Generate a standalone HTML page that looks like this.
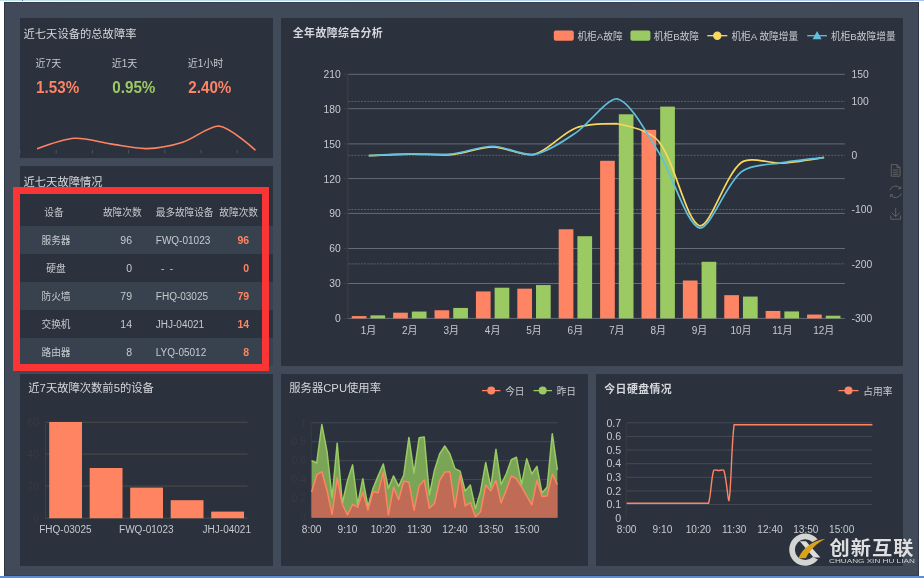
<!DOCTYPE html>
<html lang="zh-CN"><head><meta charset="utf-8"><title>设备故障监控</title>
<style>
html,body{margin:0;padding:0}
body{width:924px;height:578px;position:relative;overflow:hidden;background:#fff;
font-family:"Liberation Sans","Noto Sans CJK SC",sans-serif;color:#d4d7db}
.abs{position:absolute}
.frame{left:4px;top:2px;width:915px;height:574px;background:#414a59;box-sizing:border-box;border-left:1px solid #2f3743;border-right:1px solid #2f3743;border-bottom:1px solid #3a4250;border-top:1px solid #363e4b}
.panel{background:#2b313d}
.t{position:absolute;white-space:nowrap;line-height:1}
.title{font-size:11.3px;color:#d4d7db}
.b{font-weight:bold}
.title.b{font-size:10.9px;letter-spacing:.4px}
.lbl{font-size:9.7px;color:#c6cacf}
svg{position:absolute;left:0;top:0;overflow:visible}
svg text{font-family:"Liberation Sans","Noto Sans CJK SC",sans-serif}
</style></head><body>
<div class="abs" style="left:0;top:0;width:924px;height:1px;background:linear-gradient(90deg,#bfe4e8,#b4d6ec 45%,#a9c6ef)"></div>
<div class="abs" style="left:0;top:576px;width:924px;height:2px;background:#5f89d9"></div>
<div class="abs frame"></div>
<div class="abs" style="left:22px;top:0;width:1px;height:1px;background:#6a78b8"></div>

<div class="abs panel" style="left:20px;top:18px;width:253px;height:140px"></div>
<div class="abs panel" style="left:281px;top:18px;width:622px;height:348px"></div>
<div class="abs panel" style="left:20px;top:166px;width:253px;height:200px"></div>
<div class="abs panel" style="left:20px;top:374px;width:253px;height:192px"></div>
<div class="abs panel" style="left:281px;top:374px;width:307px;height:192px"></div>
<div class="abs panel" style="left:596px;top:374px;width:307px;height:192px"></div>
<div class="t title" style="top:34.6px;left:23.5px;transform:translateY(-50%);">近七天设备的总故障率</div>
<div class="t lbl" style="top:63.6px;left:35.6px;transform:translateY(-50%);font-size:10px;">近7天</div>
<div class="t b" style="top:86.7px;left:36.1px;transform:translateY(-50%);font-size:15.2px;color:#fe8463;transform:translateY(-50%) scaleY(1.07);">1.53%</div>
<div class="t lbl" style="top:63.6px;left:111.8px;transform:translateY(-50%);font-size:10px;">近1天</div>
<div class="t b" style="top:86.7px;left:112.3px;transform:translateY(-50%);font-size:15.2px;color:#9bca63;transform:translateY(-50%) scaleY(1.07);">0.95%</div>
<div class="t lbl" style="top:63.6px;left:187.8px;transform:translateY(-50%);font-size:10px;">近1小时</div>
<div class="t b" style="top:86.7px;left:188.3px;transform:translateY(-50%);font-size:15.2px;color:#fe8463;transform:translateY(-50%) scaleY(1.07);">2.40%</div>
<div class="t title" style="top:182.8px;left:23.5px;transform:translateY(-50%);">近七天故障情况</div>
<div class="abs" style="left:20px;top:226px;width:253px;height:28px;background:#38424e"></div>
<div class="abs" style="left:20px;top:282px;width:253px;height:28px;background:#38424e"></div>
<div class="abs" style="left:20px;top:338px;width:253px;height:28px;background:#38424e"></div>
<div class="t lbl" style="top:213.1px;left:54px;transform:translate(-50%,-50%);">设备</div>
<div class="t lbl" style="top:213.1px;left:122.3px;transform:translate(-50%,-50%);">故障次数</div>
<div class="t lbl" style="top:213.1px;left:155.8px;transform:translateY(-50%);letter-spacing:-0.1px;">最多故障设备</div>
<div class="t lbl" style="top:213.1px;left:238.7px;transform:translate(-50%,-50%);">故障次数</div>
<div class="t lbl" style="top:240.8px;left:56px;transform:translate(-50%,-50%);">服务器</div>
<div class="t lbl" style="top:240.2px;right:792px;transform:translateY(-50%);font-size:10.5px;">96</div>
<div class="t lbl" style="top:240.8px;left:155.8px;transform:translateY(-50%);font-size:10px;">FWQ-01023</div>
<div class="t lbl b" style="top:240.2px;right:674.8px;transform:translateY(-50%);font-size:10.5px;color:#fe8463;">96</div>
<div class="t lbl" style="top:268.8px;left:56px;transform:translate(-50%,-50%);">硬盘</div>
<div class="t lbl" style="top:268.2px;right:792px;transform:translateY(-50%);font-size:10.5px;">0</div>
<div class="t lbl" style="top:268.8px;left:155.8px;transform:translateY(-50%);font-size:10px;"><span style="padding-left:5.2px">-&nbsp;&nbsp;-</span></div>
<div class="t lbl b" style="top:268.2px;right:674.8px;transform:translateY(-50%);font-size:10.5px;color:#fe8463;">0</div>
<div class="t lbl" style="top:296.8px;left:56px;transform:translate(-50%,-50%);">防火墙</div>
<div class="t lbl" style="top:296.2px;right:792px;transform:translateY(-50%);font-size:10.5px;">79</div>
<div class="t lbl" style="top:296.8px;left:155.8px;transform:translateY(-50%);font-size:10px;">FHQ-03025</div>
<div class="t lbl b" style="top:296.2px;right:674.8px;transform:translateY(-50%);font-size:10.5px;color:#fe8463;">79</div>
<div class="t lbl" style="top:324.8px;left:56px;transform:translate(-50%,-50%);">交换机</div>
<div class="t lbl" style="top:324.2px;right:792px;transform:translateY(-50%);font-size:10.5px;">14</div>
<div class="t lbl" style="top:324.8px;left:155.8px;transform:translateY(-50%);font-size:10px;">JHJ-04021</div>
<div class="t lbl b" style="top:324.2px;right:674.8px;transform:translateY(-50%);font-size:10.5px;color:#fe8463;">14</div>
<div class="t lbl" style="top:352.8px;left:56px;transform:translate(-50%,-50%);">路由器</div>
<div class="t lbl" style="top:352.2px;right:792px;transform:translateY(-50%);font-size:10.5px;">8</div>
<div class="t lbl" style="top:352.8px;left:155.8px;transform:translateY(-50%);font-size:10px;">LYQ-05012</div>
<div class="t lbl b" style="top:352.2px;right:674.8px;transform:translateY(-50%);font-size:10.5px;color:#fe8463;">8</div>
<div class="abs" style="left:13px;top:187px;width:256px;height:184px;box-sizing:border-box;border:7px solid #fb3535"></div>
<div class="t title b" style="top:32.8px;left:292.8px;transform:translateY(-50%);">全年故障综合分析</div>
<div class="t title" style="top:389.2px;left:28.3px;transform:translateY(-50%);">近7天故障次数前5的设备</div>
<div class="t title" style="top:389.2px;left:289.3px;transform:translateY(-50%);">服务器CPU使用率</div>
<div class="t title b" style="top:388.8px;left:604.3px;transform:translateY(-50%);">今日硬盘情况</div>
<svg width="924" height="578" viewBox="0 0 924 578">
<line x1="20" y1="150" x2="20" y2="153.5" stroke="#4b5564" stroke-width="1"/>
<line x1="56.2" y1="150" x2="56.2" y2="153.5" stroke="#4b5564" stroke-width="1"/>
<line x1="92.4" y1="150" x2="92.4" y2="153.5" stroke="#4b5564" stroke-width="1"/>
<line x1="128.6" y1="150" x2="128.6" y2="153.5" stroke="#4b5564" stroke-width="1"/>
<line x1="164.8" y1="150" x2="164.8" y2="153.5" stroke="#4b5564" stroke-width="1"/>
<line x1="201" y1="150" x2="201" y2="153.5" stroke="#4b5564" stroke-width="1"/>
<line x1="237.2" y1="150" x2="237.2" y2="153.5" stroke="#4b5564" stroke-width="1"/>
<path d="M37.8,148.6 C37.8,148.6 63.35,139.02 74.5,138.3 C85.16,137.61 99.68,142.35 110.5,143.9 C121.28,145.44 135.74,148.85 146.5,148.6 C157.43,148.34 172.33,145.47 182.8,142.2 C194.02,138.69 208.47,126 218.8,126 C230.13,127.19 255,149.8 255,149.8" fill="none" stroke="#fe8463" stroke-width="1.6" stroke-linecap="round"/>
<line x1="348.1" y1="74.3" x2="844.8" y2="74.3" stroke="#656c77" stroke-width="1"/>
<line x1="343.6" y1="74.3" x2="348.1" y2="74.3" stroke="#3e4045" stroke-width="1"/>
<text x="340.7" y="78.2" text-anchor="end" font-size="10.3" fill="#c6cacf">210</text>
<line x1="348.1" y1="108.7" x2="844.8" y2="108.7" stroke="#656c77" stroke-width="1"/>
<line x1="343.6" y1="108.7" x2="348.1" y2="108.7" stroke="#3e4045" stroke-width="1"/>
<text x="340.7" y="112.6" text-anchor="end" font-size="10.3" fill="#c6cacf">180</text>
<line x1="348.1" y1="143.9" x2="844.8" y2="143.9" stroke="#656c77" stroke-width="1"/>
<line x1="343.6" y1="143.9" x2="348.1" y2="143.9" stroke="#3e4045" stroke-width="1"/>
<text x="340.7" y="147.8" text-anchor="end" font-size="10.3" fill="#c6cacf">150</text>
<line x1="348.1" y1="178.6" x2="844.8" y2="178.6" stroke="#656c77" stroke-width="1"/>
<line x1="343.6" y1="178.6" x2="348.1" y2="178.6" stroke="#3e4045" stroke-width="1"/>
<text x="340.7" y="182.5" text-anchor="end" font-size="10.3" fill="#c6cacf">120</text>
<line x1="348.1" y1="213.4" x2="844.8" y2="213.4" stroke="#656c77" stroke-width="1"/>
<line x1="343.6" y1="213.4" x2="348.1" y2="213.4" stroke="#3e4045" stroke-width="1"/>
<text x="340.7" y="217.3" text-anchor="end" font-size="10.3" fill="#c6cacf">90</text>
<line x1="348.1" y1="248.5" x2="844.8" y2="248.5" stroke="#656c77" stroke-width="1"/>
<line x1="343.6" y1="248.5" x2="348.1" y2="248.5" stroke="#3e4045" stroke-width="1"/>
<text x="340.7" y="252.4" text-anchor="end" font-size="10.3" fill="#c6cacf">60</text>
<line x1="348.1" y1="283.5" x2="844.8" y2="283.5" stroke="#656c77" stroke-width="1"/>
<line x1="343.6" y1="283.5" x2="348.1" y2="283.5" stroke="#3e4045" stroke-width="1"/>
<text x="340.7" y="287.4" text-anchor="end" font-size="10.3" fill="#c6cacf">30</text>
<line x1="348.1" y1="318.4" x2="844.8" y2="318.4" stroke="#656c77" stroke-width="1"/>
<line x1="343.6" y1="318.4" x2="348.1" y2="318.4" stroke="#3e4045" stroke-width="1"/>
<text x="340.7" y="322.3" text-anchor="end" font-size="10.3" fill="#c6cacf">0</text>
<text x="851.6" y="78.2" font-size="10.3" fill="#c6cacf">150</text>
<line x1="348.1" y1="101.4" x2="844.8" y2="101.4" stroke="#5b626d" stroke-width="1" stroke-dasharray="2,1.2"/>
<text x="851.6" y="105.3" font-size="10.3" fill="#c6cacf">100</text>
<line x1="348.1" y1="155.3" x2="844.8" y2="155.3" stroke="#5b626d" stroke-width="1" stroke-dasharray="2,1.2"/>
<text x="851.6" y="159.2" font-size="10.3" fill="#c6cacf">0</text>
<line x1="348.1" y1="209.5" x2="844.8" y2="209.5" stroke="#5b626d" stroke-width="1" stroke-dasharray="2,1.2"/>
<text x="851.6" y="213.4" font-size="10.3" fill="#c6cacf">-100</text>
<line x1="348.1" y1="263.9" x2="844.8" y2="263.9" stroke="#5b626d" stroke-width="1" stroke-dasharray="2,1.2"/>
<text x="851.6" y="267.8" font-size="10.3" fill="#c6cacf">-200</text>
<text x="851.6" y="322.3" font-size="10.3" fill="#c6cacf">-300</text>
<line x1="347.8" y1="74.3" x2="347.8" y2="318.4" stroke="#3e4045" stroke-width="1"/>
<rect x="351.75" y="316.08" width="14.7" height="2.32" fill="#fe8463"/>
<rect x="370.45" y="315.38" width="14.7" height="3.02" fill="#9bca63"/>
<text x="368.45" y="333.8" text-anchor="middle" font-size="10" fill="#c6cacf">1月</text>
<rect x="393.14" y="312.7" width="14.7" height="5.7" fill="#fe8463"/>
<rect x="411.84" y="311.54" width="14.7" height="6.86" fill="#9bca63"/>
<text x="409.84" y="333.8" text-anchor="middle" font-size="10" fill="#c6cacf">2月</text>
<rect x="434.53" y="310.26" width="14.7" height="8.14" fill="#fe8463"/>
<rect x="453.23" y="307.94" width="14.7" height="10.46" fill="#9bca63"/>
<text x="451.23" y="333.8" text-anchor="middle" font-size="10" fill="#c6cacf">3月</text>
<rect x="475.92" y="291.43" width="14.7" height="26.97" fill="#fe8463"/>
<rect x="494.62" y="287.71" width="14.7" height="30.69" fill="#9bca63"/>
<text x="492.62" y="333.8" text-anchor="middle" font-size="10" fill="#c6cacf">4月</text>
<rect x="517.31" y="288.64" width="14.7" height="29.76" fill="#fe8463"/>
<rect x="536.01" y="285.04" width="14.7" height="33.36" fill="#9bca63"/>
<text x="534.01" y="333.8" text-anchor="middle" font-size="10" fill="#c6cacf">5月</text>
<rect x="558.7" y="229.25" width="14.7" height="89.15" fill="#fe8463"/>
<rect x="577.4" y="236.22" width="14.7" height="82.18" fill="#9bca63"/>
<text x="575.4" y="333.8" text-anchor="middle" font-size="10" fill="#c6cacf">6月</text>
<rect x="600.1" y="160.78" width="14.7" height="157.62" fill="#fe8463"/>
<rect x="618.8" y="114.29" width="14.7" height="204.11" fill="#9bca63"/>
<text x="616.8" y="333.8" text-anchor="middle" font-size="10" fill="#c6cacf">7月</text>
<rect x="641.49" y="129.86" width="14.7" height="188.54" fill="#fe8463"/>
<rect x="660.19" y="106.61" width="14.7" height="211.79" fill="#9bca63"/>
<text x="658.19" y="333.8" text-anchor="middle" font-size="10" fill="#c6cacf">8月</text>
<rect x="682.88" y="280.51" width="14.7" height="37.89" fill="#fe8463"/>
<rect x="701.58" y="261.79" width="14.7" height="56.61" fill="#9bca63"/>
<text x="699.58" y="333.8" text-anchor="middle" font-size="10" fill="#c6cacf">9月</text>
<rect x="724.27" y="295.15" width="14.7" height="23.25" fill="#fe8463"/>
<rect x="742.97" y="296.55" width="14.7" height="21.85" fill="#9bca63"/>
<text x="740.97" y="333.8" text-anchor="middle" font-size="10" fill="#c6cacf">10月</text>
<rect x="765.66" y="310.96" width="14.7" height="7.44" fill="#fe8463"/>
<rect x="784.36" y="311.43" width="14.7" height="6.97" fill="#9bca63"/>
<text x="782.36" y="333.8" text-anchor="middle" font-size="10" fill="#c6cacf">11月</text>
<rect x="807.05" y="314.56" width="14.7" height="3.84" fill="#fe8463"/>
<rect x="825.75" y="315.73" width="14.7" height="2.67" fill="#9bca63"/>
<text x="823.75" y="333.8" text-anchor="middle" font-size="10" fill="#c6cacf">12月</text>
<path d="M368.8,155.67 C368.8,155.67 397.77,154.26 410.19,154.09 C422.6,153.92 439.27,155.6 451.58,154.53 C464.1,153.44 480.55,146.9 492.97,146.88 C505.38,146.85 522.9,156.99 534.36,154.36 C547.74,151.31 562.31,132.92 575.75,127.95 C587.15,123.73 605.21,123.72 617.15,123.72 C630.04,125.79 650.52,131.34 658.54,141.24 C675.36,162.01 686.16,222.43 699.93,225.97 C710.99,225.97 725.26,174.71 741.32,162.5 C750.1,155.83 770.35,163.81 782.71,163.04 C795.19,162.27 824.1,157.35 824.1,157.35" fill="none" stroke="#fad860" stroke-width="1.7"/>
<path d="M368.8,155.67 C368.8,155.67 397.76,154.13 410.19,153.88 C422.6,153.62 439.27,155.12 451.58,153.99 C464.1,152.83 480.57,146.16 492.97,146.23 C505.4,146.29 522.57,156.32 534.36,154.42 C547.4,152.32 564.2,140.65 575.75,132.88 C589.04,123.95 606.15,98.76 617.15,98.76 C630.98,101.97 647.65,135.09 658.54,152.09 C672.49,173.88 686.18,224.8 699.93,228.08 C711.02,228.08 725.87,184.1 741.32,171.89 C750.71,164.46 770.19,164.76 782.71,162.61 C795.02,160.5 824.1,157.67 824.1,157.67" fill="none" stroke="#60c0dd" stroke-width="1.7"/>
<rect x="553.8" y="30.6" width="20" height="10.2" rx="2" fill="#fe8463"/>
<text x="577.4" y="39.8" font-size="9.7" fill="#c6cacf">机柜A故障</text>
<rect x="630.4" y="30.6" width="20" height="10.2" rx="2" fill="#9bca63"/>
<text x="653.8" y="39.8" font-size="9.7" fill="#c6cacf">机柜B故障</text>
<line x1="707.3" y1="35.7" x2="727.3" y2="35.7" stroke="#fad860" stroke-width="1.3"/><circle cx="717.3" cy="35.7" r="4.2" fill="#fad860"/>
<text x="731.4" y="39.8" font-size="9.7" fill="#c6cacf">机柜A 故障增量</text>
<line x1="807.2" y1="35.7" x2="827" y2="35.7" stroke="#60c0dd" stroke-width="1.3"/><path d="M817.1,31 L821.6,39.2 L812.6,39.2 Z" fill="#60c0dd"/>
<text x="831" y="39.8" font-size="9.7" fill="#c6cacf">机柜B故障增量</text>
<g fill="none" stroke="#62635f" stroke-width="1">
<path d="M891.3,164.6 H897 L900,167.6 V176.2 H891.3 Z M897,164.6 V167.6 H900 M893,170 H898.3 M893,172.2 H898.3 M893,174.3 H898.3"/>
<path d="M889.9,190.2 A6,6 0 0 1 900.6,188.6 M901.3,193.4 A6,6 0 0 1 890.6,195 M900.9,186.4 L900.6,188.9 L898.2,188.7 M890.3,197.2 L890.6,194.7 L893,194.9"/>
<path d="M895.7,208 V216.4 M891.5,212.6 L895.7,216.6 L899.9,212.6 M890.8,215.6 V219.2 H900.6 V215.6"/>
</g>
<line x1="45" y1="422.2" x2="247.5" y2="422.2" stroke="#4e4d46" stroke-width="1"/>
<line x1="45" y1="454.1" x2="247.5" y2="454.1" stroke="#4e4d46" stroke-width="1"/>
<line x1="45" y1="486.1" x2="247.5" y2="486.1" stroke="#4e4d46" stroke-width="1"/>
<line x1="45" y1="518.2" x2="247.5" y2="518.2" stroke="#4b4e4c" stroke-width="1"/>
<text x="39" y="425.9" text-anchor="end" font-size="10.4" fill="#373a40">60</text>
<text x="39" y="457.8" text-anchor="end" font-size="10.4" fill="#373a40">40</text>
<text x="39" y="489.8" text-anchor="end" font-size="10.4" fill="#373a40">20</text>
<text x="39" y="521.9" text-anchor="end" font-size="10.4" fill="#373a40">0</text>
<line x1="45.5" y1="422" x2="45.5" y2="518.5" stroke="#3d3e3f" stroke-width="1"/>
<rect x="49.2" y="422" width="32.8" height="96.2" fill="#ff8562"/>
<rect x="89.7" y="468" width="32.8" height="50.2" fill="#ff8562"/>
<rect x="130.2" y="487.6" width="32.8" height="30.6" fill="#ff8562"/>
<rect x="170.7" y="500.2" width="32.8" height="18" fill="#ff8562"/>
<rect x="211.2" y="511.6" width="32.8" height="6.6" fill="#ff8562"/>
<text x="65.4" y="533.3" text-anchor="middle" font-size="10" fill="#c6cacf">FHQ-03025</text>
<text x="146.3" y="533.3" text-anchor="middle" font-size="10" fill="#c6cacf">FWQ-01023</text>
<text x="226.8" y="533.3" text-anchor="middle" font-size="10" fill="#c6cacf">JHJ-04021</text>
<line x1="311.6" y1="422.8" x2="557.4" y2="422.8" stroke="#454b54" stroke-width="1"/>
<text x="306" y="426.5" text-anchor="end" font-size="10.4" fill="#363a41">1</text>
<line x1="311.6" y1="441.74" x2="557.4" y2="441.74" stroke="#454b54" stroke-width="1"/>
<text x="306" y="445.44" text-anchor="end" font-size="10.4" fill="#363a41">0.8</text>
<line x1="311.6" y1="460.68" x2="557.4" y2="460.68" stroke="#454b54" stroke-width="1"/>
<text x="306" y="464.38" text-anchor="end" font-size="10.4" fill="#363a41">0.6</text>
<line x1="311.6" y1="479.62" x2="557.4" y2="479.62" stroke="#454b54" stroke-width="1"/>
<text x="306" y="483.32" text-anchor="end" font-size="10.4" fill="#363a41">0.4</text>
<line x1="311.6" y1="498.56" x2="557.4" y2="498.56" stroke="#454b54" stroke-width="1"/>
<text x="306" y="502.26" text-anchor="end" font-size="10.4" fill="#363a41">0.2</text>
<line x1="311.6" y1="517.5" x2="557.4" y2="517.5" stroke="#454b54" stroke-width="1"/>
<text x="306" y="521.2" text-anchor="end" font-size="10.4" fill="#363a41">0</text>
<line x1="311.2" y1="422.5" x2="311.2" y2="518" stroke="#3b3d40" stroke-width="1"/>
<path d="M311.6,460.68 L316.72,462.96 L321.84,424.52 L326.96,451.16 L332.08,497.79 L337.2,443.17 L342.33,503.5 L347.45,480.66 L352.57,464.87 L357.69,504.46 L362.81,478.76 L367.93,506.36 L373.05,488.28 L378.17,475.91 L383.29,463.92 L388.41,488.28 L393.53,475.91 L398.65,486.37 L403.77,474.95 L408.9,437.46 L414.02,473.05 L419.14,437.84 L424.26,437.08 L429.38,494.94 L434.5,470.2 L439.62,454.02 L444.74,446.02 L449.86,454.02 L454.98,468.67 L460.1,471.15 L465.23,491.13 L470.35,485.04 L475.47,508.64 L480.59,491.13 L485.71,462.58 L490.83,487.33 L495.95,449.26 L501.07,484.47 L506.19,474 L511.31,459.73 L516.43,457.25 L521.55,484.47 L526.67,458.78 L531.8,474 L536.92,466.39 L542.04,493.04 L547.16,486.95 L552.28,433.65 L557.4,470.2 L557.4,517.5 L311.6,517.5 Z" fill="#7ba556"/>
<path d="M311.6,460.68 L316.72,462.96 L321.84,424.52 L326.96,451.16 L332.08,497.79 L337.2,443.17 L342.33,503.5 L347.45,480.66 L352.57,464.87 L357.69,504.46 L362.81,478.76 L367.93,506.36 L373.05,488.28 L378.17,475.91 L383.29,463.92 L388.41,488.28 L393.53,475.91 L398.65,486.37 L403.77,474.95 L408.9,437.46 L414.02,473.05 L419.14,437.84 L424.26,437.08 L429.38,494.94 L434.5,470.2 L439.62,454.02 L444.74,446.02 L449.86,454.02 L454.98,468.67 L460.1,471.15 L465.23,491.13 L470.35,485.04 L475.47,508.64 L480.59,491.13 L485.71,462.58 L490.83,487.33 L495.95,449.26 L501.07,484.47 L506.19,474 L511.31,459.73 L516.43,457.25 L521.55,484.47 L526.67,458.78 L531.8,474 L536.92,466.39 L542.04,493.04 L547.16,486.95 L552.28,433.65 L557.4,470.2" fill="none" stroke="#9bca63" stroke-width="1.5" stroke-linejoin="round"/>
<path d="M311.6,492.08 L316.72,474.95 L321.84,471.72 L326.96,490.18 L332.08,514.35 L337.2,477.81 L342.33,504.46 L347.45,514.92 L352.57,504.46 L357.69,507.31 L362.81,492.08 L367.93,510.17 L373.05,491.7 L378.17,492.66 L383.29,472.1 L388.41,514.92 L393.53,487.33 L398.65,499.7 L403.77,481.24 L408.9,482 L414.02,510.17 L419.14,485.8 L424.26,480.09 L429.38,508.26 L434.5,503.5 L439.62,480.66 L444.74,472.1 L449.86,471.72 L454.98,507.31 L460.1,474.95 L465.23,505.98 L470.35,502.55 L475.47,516.83 L480.59,511.69 L485.71,485.04 L490.83,490.75 L495.95,480.66 L501.07,502.93 L506.19,490.18 L511.31,475.91 L516.43,478.76 L521.55,486.95 L526.67,495.89 L531.8,504.84 L536.92,480.28 L542.04,496.46 L547.16,495.89 L552.28,474.38 L557.4,484.47 L557.4,517.5 L311.6,517.5 Z" fill="#bf6b56"/>
<path d="M311.6,492.08 L316.72,474.95 L321.84,471.72 L326.96,490.18 L332.08,514.35 L337.2,477.81 L342.33,504.46 L347.45,514.92 L352.57,504.46 L357.69,507.31 L362.81,492.08 L367.93,510.17 L373.05,491.7 L378.17,492.66 L383.29,472.1 L388.41,514.92 L393.53,487.33 L398.65,499.7 L403.77,481.24 L408.9,482 L414.02,510.17 L419.14,485.8 L424.26,480.09 L429.38,508.26 L434.5,503.5 L439.62,480.66 L444.74,472.1 L449.86,471.72 L454.98,507.31 L460.1,474.95 L465.23,505.98 L470.35,502.55 L475.47,516.83 L480.59,511.69 L485.71,485.04 L490.83,490.75 L495.95,480.66 L501.07,502.93 L506.19,490.18 L511.31,475.91 L516.43,478.76 L521.55,486.95 L526.67,495.89 L531.8,504.84 L536.92,480.28 L542.04,496.46 L547.16,495.89 L552.28,474.38 L557.4,484.47" fill="none" stroke="#fe8463" stroke-width="1.5" stroke-linejoin="round"/>
<text x="311.6" y="533.4" text-anchor="middle" font-size="10.1" fill="#c6cacf">8:00</text>
<text x="347.45" y="533.4" text-anchor="middle" font-size="10.1" fill="#c6cacf">9:10</text>
<text x="383.29" y="533.4" text-anchor="middle" font-size="10.1" fill="#c6cacf">10:20</text>
<text x="419.14" y="533.4" text-anchor="middle" font-size="10.1" fill="#c6cacf">11:30</text>
<text x="454.98" y="533.4" text-anchor="middle" font-size="10.1" fill="#c6cacf">12:40</text>
<text x="490.83" y="533.4" text-anchor="middle" font-size="10.1" fill="#c6cacf">13:50</text>
<text x="526.67" y="533.4" text-anchor="middle" font-size="10.1" fill="#c6cacf">15:00</text>
<line x1="482" y1="390.6" x2="500.4" y2="390.6" stroke="#fe8463" stroke-width="1.3"/><circle cx="491.2" cy="390.6" r="4" fill="#fe8463"/>
<text x="505.2" y="394.8" font-size="9.7" fill="#c6cacf">今日</text>
<line x1="533.5" y1="390.6" x2="551.9" y2="390.6" stroke="#9bca63" stroke-width="1.3"/><circle cx="542.7" cy="390.6" r="4" fill="#9bca63"/>
<text x="556.7" y="394.8" font-size="9.7" fill="#c6cacf">昨日</text>
<line x1="626.6" y1="422.8" x2="872.4" y2="422.8" stroke="#454b54" stroke-width="1"/>
<text x="621.2" y="426.5" text-anchor="end" font-size="10.6" fill="#c6cacf">0.7</text>
<line x1="626.6" y1="436.43" x2="872.4" y2="436.43" stroke="#454b54" stroke-width="1"/>
<text x="621.2" y="440.13" text-anchor="end" font-size="10.6" fill="#c6cacf">0.6</text>
<line x1="626.6" y1="450.06" x2="872.4" y2="450.06" stroke="#454b54" stroke-width="1"/>
<text x="621.2" y="453.76" text-anchor="end" font-size="10.6" fill="#c6cacf">0.5</text>
<line x1="626.6" y1="463.69" x2="872.4" y2="463.69" stroke="#454b54" stroke-width="1"/>
<text x="621.2" y="467.39" text-anchor="end" font-size="10.6" fill="#c6cacf">0.4</text>
<line x1="626.6" y1="477.31" x2="872.4" y2="477.31" stroke="#454b54" stroke-width="1"/>
<text x="621.2" y="481.01" text-anchor="end" font-size="10.6" fill="#c6cacf">0.3</text>
<line x1="626.6" y1="490.94" x2="872.4" y2="490.94" stroke="#454b54" stroke-width="1"/>
<text x="621.2" y="494.64" text-anchor="end" font-size="10.6" fill="#c6cacf">0.2</text>
<line x1="626.6" y1="504.57" x2="872.4" y2="504.57" stroke="#454b54" stroke-width="1"/>
<text x="621.2" y="508.27" text-anchor="end" font-size="10.6" fill="#c6cacf">0.1</text>
<text x="621.2" y="521.9" text-anchor="end" font-size="10.6" fill="#c6cacf">0</text>
<line x1="626.2" y1="422.5" x2="626.2" y2="518.5" stroke="#3b3d40" stroke-width="1"/>
<path d="M626.6,503.21 C626.6,503.21 630.18,503.21 631.72,503.21 C633.26,503.21 635.31,503.21 636.84,503.21 C638.38,503.21 640.43,503.21 641.96,503.21 C643.5,503.21 645.55,503.21 647.08,503.21 C648.62,503.21 650.67,503.21 652.2,503.21 C653.74,503.21 655.79,503.21 657.33,503.21 C658.86,503.21 660.91,503.21 662.45,503.21 C663.98,503.21 666.03,503.21 667.57,503.21 C669.1,503.21 671.15,503.21 672.69,503.21 C674.22,503.21 676.27,503.21 677.81,503.21 C679.34,503.21 681.39,503.21 682.93,503.21 C684.47,503.21 686.51,503.21 688.05,503.21 C689.59,503.21 691.63,503.21 693.17,503.21 C694.71,503.21 696.76,503.21 698.29,503.21 C699.83,503.21 701.88,503.21 703.41,503.21 C704.95,503.21 708.12,503.21 708.53,503.21 C711.19,494.71 710.99,479 713.65,470.5 C714.07,469.19 717.24,470.5 718.77,470.5 C720.31,470.5 723.45,469.2 723.9,470.5 C726.53,478.2 728.14,503.21 729.02,500.48 C731.21,490.67 731.26,446 734.14,424.71 C734.33,424.71 737.72,424.71 739.26,424.71 C740.79,424.71 742.84,424.71 744.38,424.71 C745.92,424.71 747.96,424.71 749.5,424.71 C751.04,424.71 753.08,424.71 754.62,424.71 C756.16,424.71 758.21,424.71 759.74,424.71 C761.28,424.71 763.33,424.71 764.86,424.71 C766.4,424.71 768.45,424.71 769.98,424.71 C771.52,424.71 773.57,424.71 775.1,424.71 C776.64,424.71 778.69,424.71 780.23,424.71 C781.76,424.71 783.81,424.71 785.35,424.71 C786.88,424.71 788.93,424.71 790.47,424.71 C792,424.71 794.05,424.71 795.59,424.71 C797.12,424.71 799.17,424.71 800.71,424.71 C802.24,424.71 804.29,424.71 805.83,424.71 C807.37,424.71 809.41,424.71 810.95,424.71 C812.49,424.71 814.53,424.71 816.07,424.71 C817.61,424.71 819.66,424.71 821.19,424.71 C822.73,424.71 824.78,424.71 826.31,424.71 C827.85,424.71 829.9,424.71 831.43,424.71 C832.97,424.71 835.02,424.71 836.55,424.71 C838.09,424.71 840.14,424.71 841.67,424.71 C843.21,424.71 845.26,424.71 846.8,424.71 C848.33,424.71 850.38,424.71 851.92,424.71 C853.45,424.71 855.5,424.71 857.04,424.71 C858.57,424.71 860.62,424.71 862.16,424.71 C863.69,424.71 865.74,424.71 867.28,424.71 C868.82,424.71 872.4,424.71 872.4,424.71" fill="none" stroke="#fe8463" stroke-width="1.4"/>
<text x="626.6" y="533.4" text-anchor="middle" font-size="10.1" fill="#c6cacf">8:00</text>
<text x="662.45" y="533.4" text-anchor="middle" font-size="10.1" fill="#c6cacf">9:10</text>
<text x="698.29" y="533.4" text-anchor="middle" font-size="10.1" fill="#c6cacf">10:20</text>
<text x="734.14" y="533.4" text-anchor="middle" font-size="10.1" fill="#c6cacf">11:30</text>
<text x="769.98" y="533.4" text-anchor="middle" font-size="10.1" fill="#c6cacf">12:40</text>
<text x="805.83" y="533.4" text-anchor="middle" font-size="10.1" fill="#c6cacf">13:50</text>
<text x="841.67" y="533.4" text-anchor="middle" font-size="10.1" fill="#c6cacf">15:00</text>
<line x1="838.5" y1="390.6" x2="858.5" y2="390.6" stroke="#fe8463" stroke-width="1.3"/><circle cx="848.5" cy="390.6" r="4" fill="#fe8463"/>
<text x="863.3" y="394.8" font-size="9.7" fill="#c6cacf">占用率</text>
<g>
<path d="M817.63,539.35 A16.1,16.1 0 1 0 817.99,559.61 L812.67,557.04 A10.4,10.4 0 1 1 812.41,542.11 Z" fill="#d3d5d3"/>
<path d="M799.8,541.2 L806,541.2 L820.4,557.6 L813.6,557.6 Z" fill="#dcdedc"/>
<path d="M798.4,558.4 C802,549 812,540.6 825.4,538.8 C816,543.6 809.4,550.6 806,558 Z" fill="#d9a21b"/>
<text x="829.4" y="555.2" font-size="19" font-weight="bold" fill="#dedfe0" letter-spacing="1" textLength="85" lengthAdjust="spacingAndGlyphs">创新互联</text>
<text x="829" y="563.4" font-size="5.9" fill="#d4d6d8" textLength="85.8" lengthAdjust="spacingAndGlyphs">CHUANG XIN HU LIAN</text>
</g>
</svg>
</body></html>
